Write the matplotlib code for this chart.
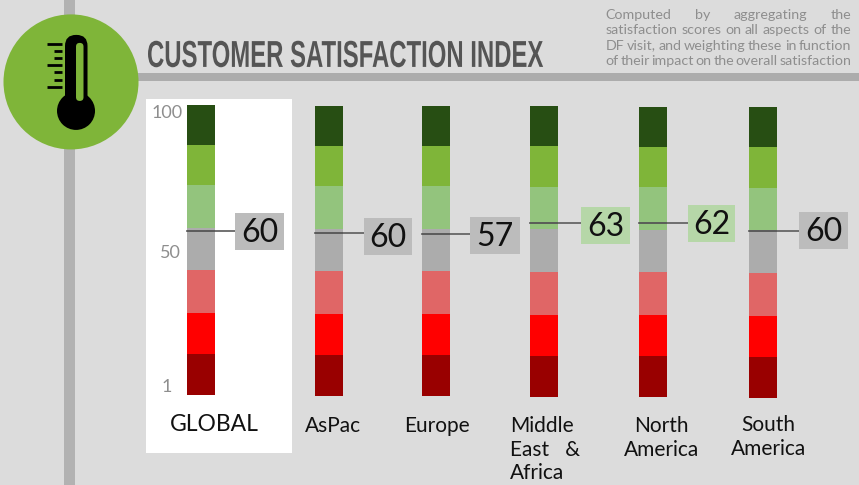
import matplotlib
matplotlib.use('Agg')
import matplotlib.pyplot as plt
from matplotlib.patches import Circle, FancyBboxPatch, Rectangle
from matplotlib.patheffects import AbstractPathEffect
from matplotlib.transforms import Affine2D

W, H = 859, 485

regions = ['GLOBAL', 'AsPac', 'Europe', 'Middle\nEast   &\nAfrica', 'North\nAmerica', 'South\nAmerica']
scores = [60, 60, 57, 63, 62, 60]
# where the marker line sits on each thermometer
marker_levels = [57.1, 56.5, 56.2, 60.3, 60.5, 57.7]

band_edges = [1, 15, 29, 43.5, 58, 72.5, 86.2, 100]
band_colors = ['#990000', '#ff0000', '#e06666', '#acacac', '#93c47d', '#7fb539', '#274e13']

# pixel layout of each thermometer
bar_left = [187, 315, 422, 530, 639, 749]
bar_top = [105, 106, 106, 106, 107, 107]
bar_bottom = [395, 396, 396, 397, 397, 398]
bar_width = 28

box_left = [235, 364, 470, 581, 688, 799]
box_top = [213, 218, 217, 207, 205, 212]
box_width = [49, 48, 50, 49, 47, 49]
box_height = 37

label_x = [214, 333, 437, 510, 661, 768]
label_y = [414, 416, 416, 416, 416, 415]
label_ha = ['center', 'center', 'center', 'left', 'center', 'center']
label_size = [16.5, 15, 15, 15, 15, 15]

tick_y = [44, 51, 58, 65.5, 72.5, 80, 87.5]
tick_long = [True, False, False, True, False, False, True]

note_lines = ['Computed by aggregating the',
              'satisfaction scores on all aspects of the',
              'DF visit, and weighting these in function',
              'of their impact on the overall satisfaction']

BG = '#dcdcdc'
RULE = '#acacac'
GREEN = '#7fb539'
FONT = ['Lato', 'DejaVu Sans']


class Reshape(AbstractPathEffect):
    """Scales text about its start, no condensed font is installed."""

    def __init__(self, sx, sy, x0, y0):
        super().__init__()
        self.sx = sx
        self.sy = sy
        self.x0 = x0
        self.y0 = y0

    def draw_path(self, renderer, gc, tpath, affine, rgbFace=None):
        shape = (Affine2D().translate(-self.x0, -self.y0).scale(self.sx, self.sy)
                 .translate(self.x0, self.y0))
        renderer.draw_path(gc, tpath, affine + shape, rgbFace)


# a hair over the size so the pixel count does not round down
fig = plt.figure(figsize=((W + 0.1) / 100, (H + 0.1) / 100), dpi=100, facecolor=BG)
page = fig.add_axes([0, 0, 1, 1])
page.set_xlim(0, W)
page.set_ylim(H, 0)
page.axis('off')
renderer = fig.canvas.get_renderer()

page.add_patch(Rectangle((64, 0), 11, H, color='#b2b2b2', lw=0))
page.add_patch(Rectangle((130, 73), W - 130, 8, color=RULE, lw=0))
page.add_patch(Rectangle((146, 99), 146, 354, color='white', lw=0))

# thermometer badge
page.add_patch(Circle((71, 82), 67.5, color=GREEN, lw=0, zorder=3))
page.add_patch(FancyBboxPatch((65, 35), 22.5, 75, boxstyle='round,pad=0,rounding_size=11',
                              fc='black', lw=0, zorder=4))
page.add_patch(Circle((76, 111), 19, color='black', lw=0, zorder=4))
page.add_patch(FancyBboxPatch((76, 43), 7.5, 58, boxstyle='round,pad=0,rounding_size=3.7',
                              fc=GREEN, lw=0, zorder=5))
for y, long_tick in zip(tick_y, tick_long):
    page.plot([47 if long_tick else 54, 61.5], [y, y], color='black', lw=2,
              solid_capstyle='butt', zorder=6)

# set small, then stretched up and narrowed to the 27pt condensed look
title_size = 18.5
title = page.text(147, 67, 'CUSTOMER SATISFACTION INDEX', family=['Liberation Sans', 'DejaVu Sans'],
                  fontweight='bold', fontsize=title_size, color='#555555', va='baseline', ha='left')
title_box = title.get_window_extent(renderer)
title_xy = page.transData.transform((147, 67))
title.set_path_effects([Reshape(397 / title_box.width, 27 / title_size, title_xy[0], title_xy[1])])

# justified note, word by word
note_left, note_right = 605.5, 851
for n, line in enumerate(note_lines):
    words = line.split()
    y = 15 + n * 15.3
    items = [page.text(0, y, w, family=FONT, fontsize=10.3, color='#8e8e8e', va='center', ha='left')
             for w in words]
    widths = [t.get_window_extent(renderer).width for t in items]
    gap = (note_right - note_left - sum(widths)) / (len(words) - 1)
    x = note_left
    for t, w in zip(items, widths):
        t.set_x(x)
        x += w + gap

page.text(183, 113, '100', family=FONT, fontsize=13, color='#8e8e8e', va='center', ha='right')
page.text(181, 253, '50', family=FONT, fontsize=13, color='#8e8e8e', va='center', ha='right')
page.text(167, 387, '1', family=FONT, fontsize=13, color='#8e8e8e', va='center', ha='center')

for i, region in enumerate(regions):
    ax = fig.add_axes([bar_left[i] / W, 1 - bar_bottom[i] / H, bar_width / W,
                       (bar_bottom[i] - bar_top[i]) / H], zorder=2)
    ax.set_xlim(0, 1)
    ax.set_ylim(band_edges[0], band_edges[-1])
    ax.axis('off')
    for low, high, color in zip(band_edges[:-1], band_edges[1:], band_colors):
        ax.bar(0.5, high - low, width=1, bottom=low, color=color, lw=0)

    # marker line runs from the bar's left edge over to the score box
    frac = (marker_levels[i] - band_edges[0]) / (band_edges[-1] - band_edges[0])
    level_px = bar_bottom[i] - frac * (bar_bottom[i] - bar_top[i])
    page.plot([bar_left[i], box_left[i]], [level_px, level_px], color='#666666', lw=1.3, zorder=1)
    ax.plot([0, 1], [marker_levels[i]] * 2, color='#555555', lw=1.3, solid_capstyle='butt')

    box_color = '#b6d7a8' if scores[i] > 60 else '#bcbcbc'
    page.add_patch(Rectangle((box_left[i], box_top[i]), box_width[i], box_height, color=box_color, lw=0))
    page.text(box_left[i] + box_width[i] / 2, box_top[i] + box_height / 2 + 1, str(scores[i]),
              family=FONT, fontsize=23, color='#111111', ha='center', va='center')

    page.text(label_x[i], label_y[i], region, family=FONT, fontsize=label_size[i], color='#111111',
              ha=label_ha[i], va='top', linespacing=1.23)

fig.savefig('out.png', dpi=100, facecolor=BG)
